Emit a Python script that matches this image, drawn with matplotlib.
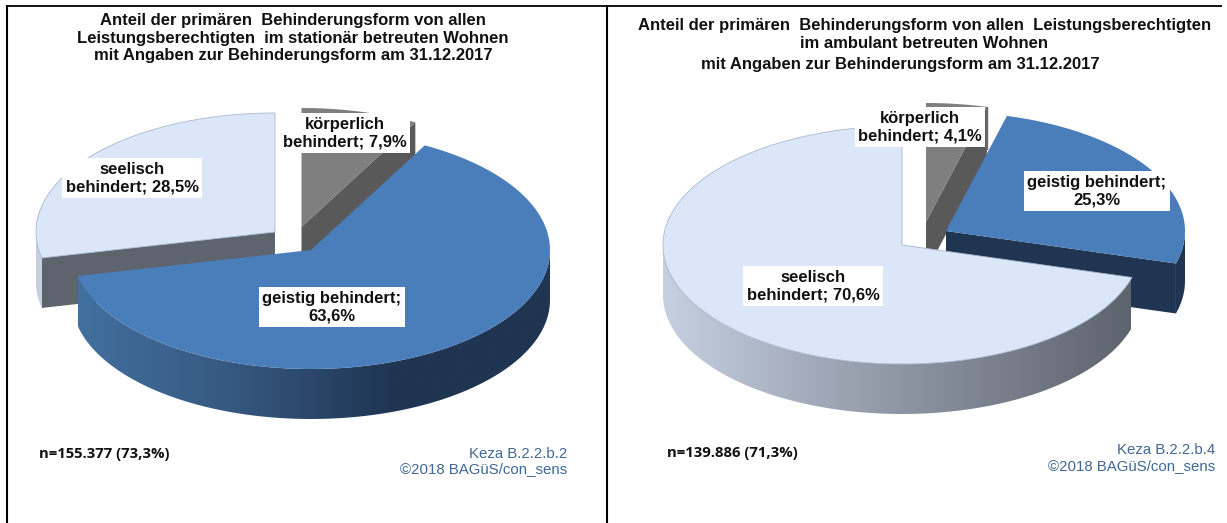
import numpy as np
import matplotlib
matplotlib.use("Agg")
import matplotlib.pyplot as plt
from matplotlib.colors import LinearSegmentedColormap
from matplotlib.patches import Polygon

# Data
categories = ["körperlich\nbehindert", "geistig behindert", "seelisch\nbehindert"]
values_stationaer = [7.9, 63.6, 28.5]
values_ambulant = [4.1, 25.3, 70.6]
labels_stationaer = ["körperlich\nbehindert; 7,9%", "geistig behindert;\n63,6%", "seelisch\nbehindert; 28,5%"]
labels_ambulant = ["körperlich\nbehindert; 4,1%", "geistig behindert;\n25,3%", "seelisch\nbehindert; 70,6%"]
title_stationaer = ("Anteil der primären  Behinderungsform von allen\n"
                    "Leistungsberechtigten  im stationär betreuten Wohnen\n"
                    "mit Angaben zur Behinderungsform am 31.12.2017")
title_ambulant = "Anteil der primären  Behinderungsform von allen  Leistungsberechtigten\nim ambulant betreuten Wohnen"
title_ambulant3 = "mit Angaben zur Behinderungsform am 31.12.2017"

# Pie geometry in pixels
RX, RY, DEPTH = 239, 119, 50

# slice styles: top colour, radial face colour, rim gradient
styles = [
    dict(top="#7f7f7f", face="#595959", rim=["#7f7f7f", "#595959"], edge="none"),
    dict(top="#4a7ebb", face="#1f3552", rim=["#42709f", "#35587f", "#1f3552", "#1f3552"], edge="none"),
    dict(top="#dbe6f8", face="#5d646e", rim=["#c6d0e0", "#8f96a4", "#5d646e"], edge="#a9b8cd"),
]

fig = plt.figure(figsize=(12.27, 5.23), dpi=100)
ax = fig.add_axes([0, 0, 1, 1])
ax.set_xlim(0, 1227)
ax.set_ylim(523, 0)
ax.axis("off")


def point(cx, cy, deg):
    # angle clockwise from twelve o'clock
    a = np.radians(deg)
    return cx + RX * np.sin(a), cy - RY * np.cos(a)


def draw_slice(apex, a1, a2, style, x_range, face_at=None):
    cx, cy = apex
    # side of the cylinder, only where it faces the viewer
    lo, hi = max(a1, 90), min(a2, 270)
    if face_at is not None:
        for ang in face_at:
            px, py = point(cx, cy, ang)
            ax.add_patch(Polygon([(cx, cy), (px, py), (px, py + DEPTH), (cx, cy + DEPTH)],
                                 closed=True, fc=style["face"], ec="none", zorder=style["z"]))
    if hi > lo:
        t = np.linspace(lo, hi, 200)
        xs, ys = point(cx, cy, t)
        verts = np.r_[np.c_[xs, ys], np.c_[xs[::-1], ys[::-1] + DEPTH]]
        rim = Polygon(verts, closed=True, fc="none", ec="none", zorder=style["z"])
        ax.add_patch(rim)
        cmap = LinearSegmentedColormap.from_list("rim", style["rim"])
        im = ax.imshow(np.linspace(0, 1, 256)[None, :], cmap=cmap, aspect="auto",
                       extent=[x_range[0], x_range[1], 523, 0], zorder=style["z"])
        im.set_clip_path(rim)
    t = np.linspace(a1, a2, 300)
    xs, ys = point(cx, cy, t)
    verts = np.r_[[(cx, cy)], np.c_[xs, ys]]
    ax.add_patch(Polygon(verts, closed=True, fc=style["top"], ec=style["edge"], lw=0.6,
                         zorder=style["z"] + 0.5))


def draw_pie(values, apexes, order, faces, x_ranges):
    ends = np.cumsum(values) * 3.6
    starts = np.r_[0, ends[:-1]]
    for z, i in enumerate(order):
        st = dict(styles[i], z=2 + z)
        draw_slice(apexes[i], starts[i], ends[i], st, x_ranges[i], faces[i])


# left pie: only the blue slice stays in place
draw_pie(values_stationaer,
         apexes=[(301.5, 227), (311, 250), (275, 232)],
         order=[0, 2, 1],
         faces=[[28.44], [], [257.4]],
         x_ranges=[(62, 540), (78, 550), (36, 514)])
# right pie: seelisch stays in place
draw_pie(values_ambulant,
         apexes=[(926, 222), (946, 231), (902, 245)],
         order=[0, 1, 2],
         faces=[[14.76], [105.84], []],
         x_ranges=[(687, 1165), (707, 1186), (662, 1131)])

# value labels
box = dict(boxstyle="square,pad=0.2", fc="white", ec="none")
lab = dict(ha="center", va="center", fontsize=12, fontweight="bold", family="Liberation Sans",
           color="#111111", linespacing=1.2, bbox=box, zorder=20)
for (x, y), s in zip([(344.5, 133), (332, 307), (132, 178)], labels_stationaer):
    ax.text(x, y, s, **lab)
for (x, y), s in zip([(920, 127), (1097, 191), (813, 286)], labels_ambulant):
    ax.text(x, y, s, **lab)
# rim edge of the small right slice shows next to its label
px, py = point(926, 222, 14.76)
ax.plot([px, px], [py, py + 42], color="#6a6a6a", lw=1.0, zorder=21)

# titles
ttl = dict(ha="center", va="center", fontsize=12, fontweight="bold", family="Liberation Sans",
           color="#111111", linespacing=1.2)
ax.text(293, 38, title_stationaer, **ttl)
ax.text(924.5, 34.5, title_ambulant, **ttl)
ax.text(900, 64, title_ambulant3, **ttl)

# notes
note = dict(fontsize=10.7, fontweight="bold", family="Open Sans", color="#111111", va="center")
ax.text(39, 454, "n=155.377 (73,3%)", **note)
ax.text(667, 453, "n=139.886 (71,3%)", **note)
src = dict(ha="right", va="center", fontsize=10.8, family="Liberation Sans", color="#3f6797", linespacing=1.1)
ax.text(567, 461.5, "Keza B.2.2.b.2\n©2018 BAGüS/con_sens", **src)
ax.text(1215, 458, "Keza B.2.2.b.4\n©2018 BAGüS/con_sens", **src)

# table frame
ax.plot([7, 1222], [6, 6], color="black", lw=1.3, zorder=30, solid_capstyle="butt")
ax.plot([7, 7], [5, 523], color="black", lw=1.5, zorder=30, solid_capstyle="butt")
ax.plot([607, 607], [5, 523], color="black", lw=1.5, zorder=30, solid_capstyle="butt")
ax.set_xlim(0, 1227)
ax.set_ylim(523, 0)

fig.savefig("out.png", dpi=100)
